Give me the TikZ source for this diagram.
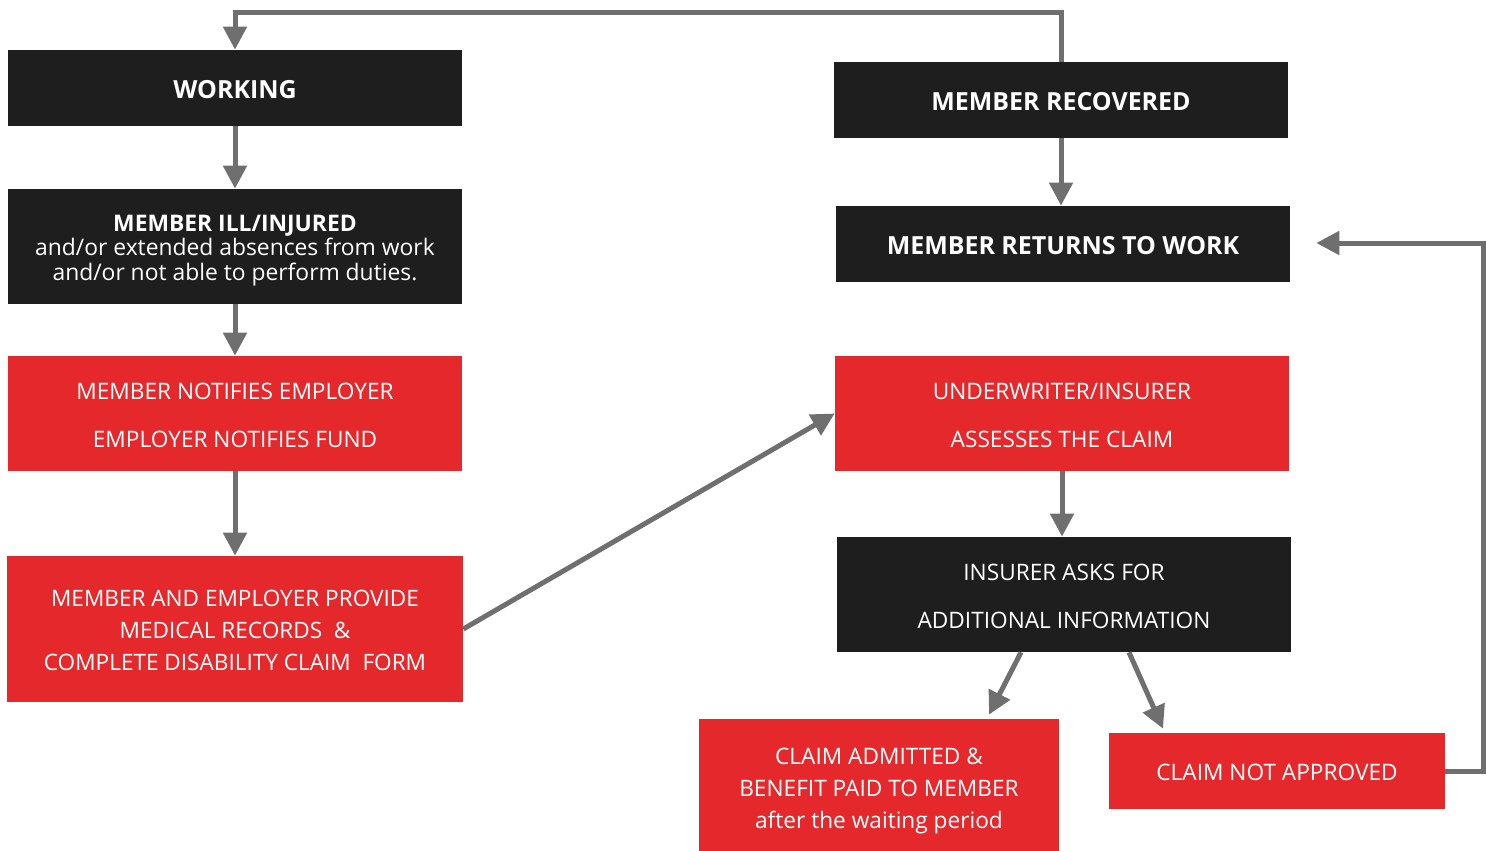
\documentclass[tikz,border=0pt]{standalone}
\usepackage{fontspec}
\setmainfont{Open Sans}
\usetikzlibrary{arrows.meta,calc}
\definecolor{boxblack}{HTML}{1E1E1E}
\definecolor{boxred}{HTML}{E5282B}
\definecolor{linegray}{HTML}{6F6F6F}
\newcommand{\topstrut}[1]{\rule{0pt}{#1}}
\begin{document}
\begin{tikzpicture}[x=0.02cm,y=-0.02cm,
  base/.style={inner sep=0pt, text=white, align=center, minimum width=9.08cm},
  blk/.style={base, fill=boxblack},
  red/.style={base, fill=boxred},
  ttl/.style={font=\bfseries\fontsize{14.2}{17}\selectfont},
  txt/.style={font=\fontsize{12.9}{27.2}\selectfont},
  arr/.style={draw=linegray, line width=0.1cm, -{Triangle[length=0.46cm,width=0.46cm]}}]
\useasboundingbox (0,0) rectangle (1486,851);
\node[blk, ttl, minimum height=1.52cm] (work) at (235,88) {\topstrut{12pt}WORKING};
\node[blk, minimum height=2.3cm, font=\fontsize{13}{13.9}\selectfont] (ill) at (235,246.5)
  {\topstrut{13.5pt}{\bfseries MEMBER ILL/INJURED}\\and/or extended absences from work\\and/or not able to perform duties.};
\node[red, txt, minimum height=2.3cm] (notif) at (235,413.5)
  {\topstrut{11.5pt}MEMBER NOTIFIES EMPLOYER\\EMPLOYER NOTIFIES FUND};
\node[red, minimum width=9.12cm, minimum height=2.92cm, font=\fontsize{12.85}{18.1}\selectfont] (prov) at (235,629)
  {\topstrut{11pt}MEMBER AND EMPLOYER PROVIDE\\MEDICAL RECORDS~~\&\\COMPLETE DISABILITY CLAIM~~FORM};
\node[blk, ttl, minimum height=1.52cm] (rec) at (1061,100) {\topstrut{12pt}MEMBER RECOVERED};
\node[blk, ttl, minimum height=1.52cm] (ret) at (1063,244) {\topstrut{12pt}MEMBER RETURNS TO WORK};
\node[red, txt, minimum height=2.3cm] (und) at (1062,413.5)
  {\topstrut{11.5pt}UNDERWRITER/INSURER\\ASSESSES THE CLAIM};
\node[blk, txt, minimum height=2.3cm] (ins) at (1064,594.5)
  {\topstrut{11.5pt}INSURER ASKS FOR\\ADDITIONAL INFORMATION};
\node[red, minimum width=7.2cm, minimum height=2.64cm, font=\fontsize{12.9}{18.1}\selectfont] (adm) at (879,785)
  {\topstrut{16.5pt}CLAIM ADMITTED \&\\BENEFIT PAID TO MEMBER\\after the waiting period};
\node[red, txt, minimum width=6.72cm, minimum height=1.52cm] (notapp) at (1277,771)
  {\topstrut{11pt}CLAIM NOT APPROVED};
% connectors
\draw[arr] (rec.north) -- ++(0,-49) -| (work.north);
\draw[arr] (work) -- (ill);
\draw[arr] (ill) -- (notif);
\draw[arr] (notif) -- (prov);
\draw[arr] (prov.east) -- (und.west);
\draw[arr] (rec) -- (rec |- ret.north);
\draw[arr] (und.south) -- (und.south |- ins.north);
\draw[arr] ($(ins.south)+(-43,0)$) -- ($(adm.north)+(110,-4)$);
\draw[arr] ($(ins.south)+(65,0)$) -- ($(notapp.north)+(-114,-4)$);
\draw[arr] (notapp.east) -- ++(38,0) |- ($(ret.east)+(26,-1)$);
\end{tikzpicture}
\end{document}
